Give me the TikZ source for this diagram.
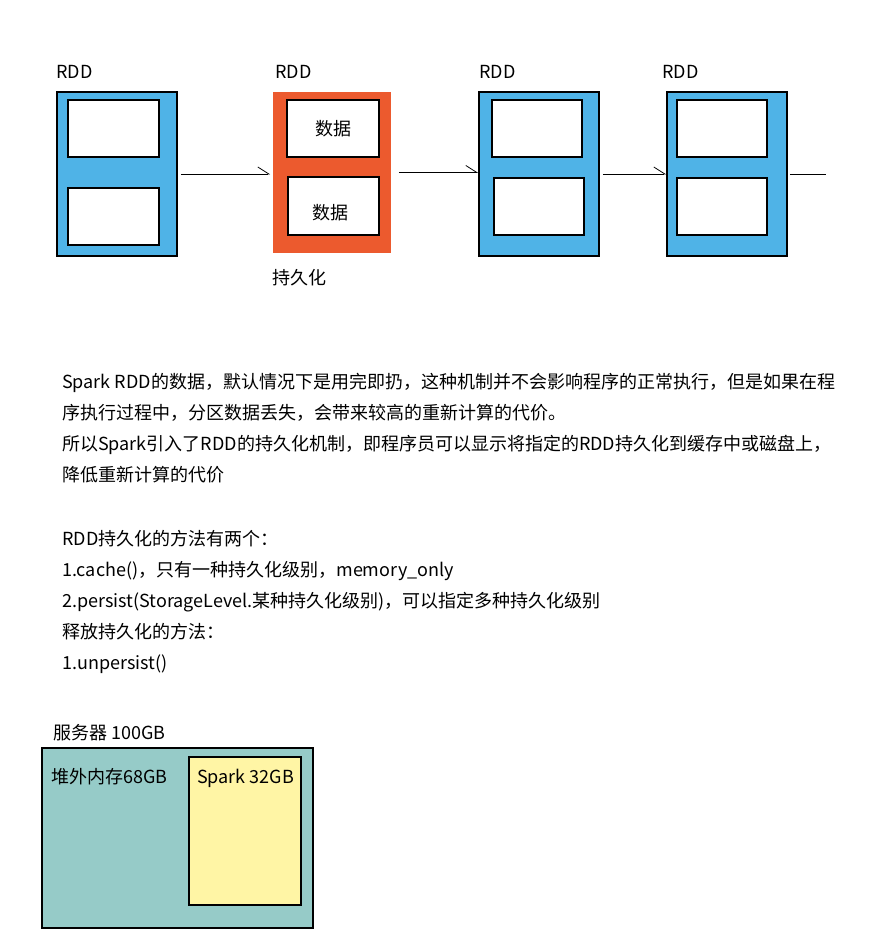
\documentclass[tikz,border=0pt]{standalone}
\usepackage{fontspec}
\setmainfont{Noto Sans CJK SC}
\usepackage{tikz}
\usetikzlibrary{arrows.meta,positioning}
\definecolor{ink}{HTML}{000000}
\definecolor{rddblue}{HTML}{4FB3E7}
\definecolor{persist}{HTML}{EC5A2E}
\definecolor{heap}{HTML}{96CBC8}
\definecolor{sparkbg}{HTML}{FFF5A5}
\tikzset{rdd/.style={draw=ink,line width=1.6pt,fill=rddblue,
  minimum width=120pt,minimum height=164pt,inner sep=0pt},
  cached/.style={rdd,draw=none,fill=persist,minimum width=118pt,minimum height=161pt},
  part/.style={draw=ink,line width=1.6pt,fill=white,minimum width=91pt,
  minimum height=57pt,inner sep=0pt,font=\fontsize{18}{20}\selectfont},
  mem/.style={draw=ink,line width=1.6pt,inner sep=0pt},
  tag/.style={anchor=west,inner sep=0pt,font=\fontsize{18}{20}\selectfont},
  body/.style={anchor=north west,inner sep=0pt,align=left,font=\fontsize{18}{31}\selectfont},
  flow/.style={-{Straight Barb[left,length=11pt,width=14pt]},line width=0.8pt,draw=ink}}

\begin{document}
\begin{tikzpicture}[x=1pt,y=-1pt]
\useasboundingbox (0,0) rectangle (894,946);
\node[rdd] (rdd1) at (117,174) {};
\node[part] (p1a) at (113.5,128.5) {};
\node[part] (p1b) at (113.5,216.5) {};
\node[cached] (rdd2) at (332,172.5) {};
\node[part,minimum width=92pt] (p2a) at (333,128.5) {数据};
\node[part,minimum height=58pt,label={[tag,anchor=center,xshift=-3pt,yshift=-7pt]center:数据}] (p2b) at (333.5,206) {};
\node[rdd] (rdd3) at (539,174) {};
\node[part,minimum width=90pt] (p3a) at (537,128.5) {};
\node[part,minimum width=90pt] (p3b) at (539,206.5) {};
\node[rdd] (rdd4) at (727,174) {};
\node[part,minimum width=90pt] (p4a) at (722,128.5) {};
\node[part,minimum width=90pt] (p4b) at (722,206.5) {};
\coordinate (tail) at (826,176);
\node[tag] (t1) at (56,72) {RDD};
\node[tag] (t2) at (275,72) {RDD};
\node[tag] (t3) at (479,72) {RDD};
\node[tag] (t4) at (662,72) {RDD};
\node[tag] (keep) at (272,278) {持久化};
\draw[flow,shorten <=3pt,shorten >=2pt] (rdd1.east) -- (rdd1.east -| rdd2.west);
\draw[flow,shorten <=7pt] (rdd2.east) -- (rdd2.east -| rdd3.west);
\draw[flow,shorten <=3pt] (rdd3.east) -- (rdd3.east -| rdd4.west);
\draw[line width=0.8pt,draw=ink,shorten <=2pt] (rdd4.east) -- (rdd4.east -| tail);
\node[body] (intro) at (62,373) {Spark RDD的数据，默认情况下是用完即扔，这种机制并不会影响程序的正常执行，但是如果在程\\
序执行过程中，分区数据丢失，会带来较高的重新计算的代价。\\
所以Spark引入了RDD的持久化机制，即程序员可以显示将指定的RDD持久化到缓存中或磁盘上，\\
降低重新计算的代价};
\node[body] (methods) at (62,530) {RDD持久化的方法有两个：\\
1.cache()，只有一种持久化级别，memory\_only\\
2.persist(StorageLevel.某种持久化级别)，可以指定多种持久化级别\\
释放持久化的方法：\\
1.unpersist()};
\node[tag] (srvtag) at (53,733) {服务器 100GB};
\node[mem,fill=heap,minimum width=271pt,minimum height=180pt] (server) at (177.5,838) {};
\node[mem,fill=sparkbg,minimum width=112pt,minimum height=148pt] (spark) at (245,831) {};
\node[tag] (heaptag) at (51,777) {堆外内存68GB};
\node[tag] (sparktag) at (197,778) {Spark 32GB};
\end{tikzpicture}
\end{document}
